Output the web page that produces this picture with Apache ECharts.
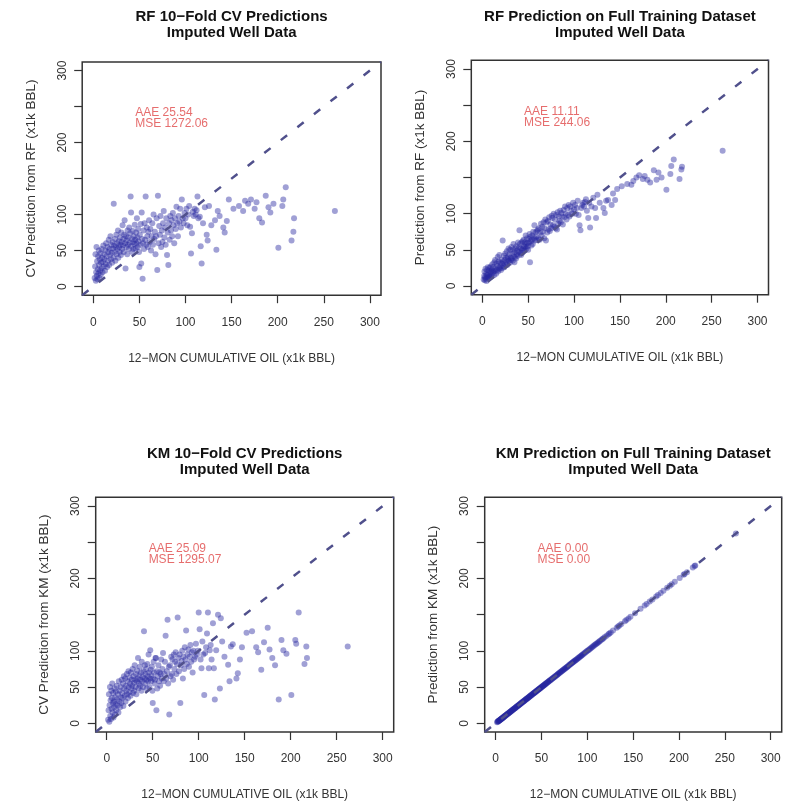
<!DOCTYPE html>
<html><head><meta charset="utf-8">
<script src="https://cdn.jsdelivr.net/npm/echarts@6/dist/echarts.min.js"></script>
<style>html,body{margin:0;padding:0;background:#fff}#c{width:796px;height:802px}</style>
</head><body><div id="c"></div>
<script>
// 12-month cumulative oil, actual (x1k BBL)
const actual = [
1.5,2.0,2.4,2.8,3.1,3.5,3.8,4.2,4.6,5.0,5.3,5.6,6.0,6.3,6.7,7.0,7.4,7.8,8.1,8.5,
8.9,9.2,9.6,10.0,10.4,10.9,11.3,11.8,12.2,12.7,13.1,13.6,14.0,14.5,15.0,15.4,15.9,16.3,16.8,17.2,
17.7,18.1,18.6,19.0,19.5,20.0,20.4,20.9,21.3,21.8,22.2,22.7,23.1,23.6,24.0,24.5,25.0,25.4,25.9,26.3,
26.8,27.2,27.7,28.1,28.6,29.0,29.5,30.0,30.4,30.9,31.3,31.8,32.2,32.7,33.1,33.6,34.0,34.5,35.0,35.4,
35.9,36.3,36.8,37.2,37.7,38.1,38.6,39.0,39.5,40.0,40.5,41.0,41.4,41.9,42.3,42.8,43.2,43.7,44.1,44.6,
45.0,45.5,46.0,46.4,46.9,47.3,47.8,48.2,48.7,49.1,49.6,50.0,50.5,51.0,51.5,52.0,52.5,53.0,53.5,54.0,
54.5,55.0,55.6,56.2,56.8,57.4,58.0,58.6,59.2,59.8,
60.5,61.2,61.9,62.6,63.3,64.0,64.7,65.4,66.1,66.8,67.5,68.0,68.7,69.4,70.1,70.8,71.5,72.2,72.9,73.6,
74.3,75.0,75.7,76.4,77.1,77.8,78.5,79.2,80.0,80.7,81.4,82.1,82.8,83.5,84.2,84.9,85.6,86.3,87.0,87.8,
88.6,89.4,90.2,91.0,91.8,92.6,93.4,94.2,95.0,96.0,97.0,98.0,99.0,100.0,101.0,102.0,103.0,104.0,105.0,106.0,
107.0,108.0,109.0,110.0,111.0,112.0,113.0,114.0,
115.5,116.5,117.5,119.0,121.0,123.0,124.0,125.5,128.0,132.0,133.5,135.0,137.0,141.0,142.5,144.8,147.0,152.0,158.0,162.5,
164.6,168.0,171.0,175.0,177.0,180.0,183.0,187.0,190.0,192.0,195.4,200.7,205.0,206.0,208.7,215.0,217.0,217.7,262.0
];
// RF 10-fold CV predictions
const rfCV = [
12,28,45,8,20,55,15,35,10,24,42,18,50,30,12,38,22,46,16,33,
25,52,40,20,34,57,28,45,38,22,50,31,60,42,27,55,36,48,65,30,
52,44,70,38,58,47,33,62,53,40,115,57,48,66,36,55,72,45,60,52,
78,40,63,55,48,68,58,44,75,62,52,85,57,66,48,72,92,60,25,70,
55,64,45,78,58,68,52,82,61,74,125,103,56,66,48,77,62,52,70,59,
86,65,53,75,60,95,68,55,80,63,48,27,72,58,87,32,103,66,11,60,
78,52,88,65,125,58,82,70,55,76,
92,62,80,50,70,88,58,100,66,76,45,70,95,23,126,60,84,72,98,55,
78,62,88,105,68,82,58,95,44,75,30,88,65,98,78,92,70,102,85,60,
95,80,111,88,70,98,90,108,82,121,95,88,102,95,108,85,100,112,83,46,
74,104,98,108,100,106,125,95,
97,56,32,88,110,72,64,112,85,92,51,105,98,82,75,91,121,108,112,105,
119,115,121,108,117,95,89,126,110,103,115,54,112,121,138,64,76,95,105
];
// RF predictions on the full training dataset
const rfFull = [
9,14,20,8,12,24,10,17,7,15,22,12,26,16,11,21,13,25,12,19,
14,27,20,13,22,30,18,26,20,15,33,21,36,24,17,31,22,28,40,20,
34,25,43,24,32,27,22,36,31,25,63,34,28,42,26,36,45,30,39,33,
48,29,40,37,52,35,44,32,50,39,36,54,38,45,35,50,58,41,33,47,
40,52,38,55,44,49,42,60,47,53,77,58,45,52,43,60,50,46,62,52,
64,55,49,60,54,70,58,52,66,59,55,50,65,60,72,33,68,62,56,64,
70,58,75,66,84,63,74,68,64,76,
78,66,80,64,74,86,70,82,75,88,66,80,92,63,88,74,90,78,95,76,
85,80,97,94,84,100,82,92,80,98,78,102,86,96,90,104,88,101,96,85,
105,95,110,100,92,108,98,112,96,110,104,100,115,106,112,100,108,118,98,84,
77,108,112,115,110,116,120,104,
94,115,81,110,122,108,94,126,115,108,101,118,119,112,128,119,134,138,141,140,
145,150,153,148,152,147,143,160,147,157,150,133,155,166,175,148,161,165,187
];
// KM 10-fold CV predictions
const kmCV = [
5,18,40,2,25,50,10,32,6,45,20,35,55,15,28,42,8,30,22,48,
12,36,26,44,18,52,33,25,40,15,58,30,45,22,50,36,28,60,42,35,
55,24,65,48,38,62,30,52,45,68,40,58,35,72,50,43,63,55,38,70,
48,60,52,75,42,65,56,45,80,60,50,68,40,58,73,62,90,48,55,66,
78,52,60,70,45,85,58,64,50,72,127,62,80,55,68,75,60,48,82,65,
58,95,70,50,62,101,74,58,66,78,45,28,62,85,70,55,60,90,90,18,
72,48,65,80,58,70,52,68,88,62,
75,97,58,68,85,121,62,72,143,55,78,12,80,65,92,68,88,60,95,75,
85,98,68,82,146,90,72,95,28,80,86,100,62,92,75,105,88,128,82,95,
102,78,92,108,85,98,70,100,88,92,110,95,100,153,130,88,76,113,95,39,
97,105,124,153,76,101,108,88,
138,76,33,101,150,48,145,113,92,81,58,106,109,62,69,88,105,125,127,105,
98,74,112,132,102,90,80,33,115,101,96,39,115,110,153,82,106,90,106
];
// KM predictions on the full training dataset (AAE 0.00, MSE 0.00: equal to actual)
const kmFull = actual;

const xTicks = [0, 50, 100, 150, 200, 250, 300];
const yTicks = [0, 50, 100, 150, 200, 250, 300];
const yTickLabels = [0, 50, 100, 200, 300];
const axisRange = [-12, 312];
const refLine = [-12, 312];

const titles = [
  "RF 10\u2212Fold CV Predictions\nImputed Well Data",
  "RF Prediction on Full Training Dataset\nImputed Well Data",
  "KM 10\u2212Fold CV Predictions\nImputed Well Data",
  "KM Prediction on Full Training Dataset\nImputed Well Data"
];
const yNames = [
  "CV Prediction from RF (x1k BBL)",
  "Prediction from RF (x1k BBL)",
  "CV Prediction from KM (x1k BBL)",
  "Prediction from KM (x1k BBL)"
];
const xName = "12\u2212MON CUMULATIVE OIL (x1k BBL)";
const stats = [
  ["AAE 25.54", "MSE 1272.06"],
  ["AAE 11.11", "MSE 244.06"],
  ["AAE 25.09", "MSE 1295.07"],
  ["AAE 0.00", "MSE 0.00"]
];
const statPos = [45, 234];
const preds = [rfCV, rfFull, kmCV, kmFull];

const FONT = "'Liberation Sans', Arial, Helvetica, sans-serif";
const grids = [
  {left: 82.2, top: 61.9, width: 298.8, height: 233.3},
  {left: 471.3, top: 60.3, width: 297.2, height: 234.4},
  {left: 95.7, top: 497.3, width: 298, height: 234.7},
  {left: 484.7, top: 497.3, width: 297, height: 234.7}
];
const titleTops = [9, 9, 446, 446];

const option = {
  animation: false,
  backgroundColor: '#fff',
  title: grids.map((g, i) => ({
    text: titles[i],
    left: g.left + g.width / 2,
    top: titleTops[i],
    textAlign: 'center',
    padding: 0,
    textStyle: {fontFamily: FONT, fontSize: 15, fontWeight: 'bold', color: '#111', lineHeight: 16}
  })),
  grid: grids.map(g => Object.assign({show: true, borderColor: '#333', borderWidth: 1.5, backgroundColor: 'transparent', containLabel: false}, g)),
  xAxis: grids.map((g, i) => ({
    type: 'value', gridIndex: i, min: axisRange[0], max: axisRange[1],
    axisLine: {show: false, onZero: false},
    axisTick: {show: true, inside: false, length: 8, customValues: xTicks, lineStyle: {color: '#333', width: 1.2}},
    axisLabel: {customValues: xTicks, margin: 21, fontSize: 12, color: '#333', fontFamily: FONT},
    splitLine: {show: false},
    name: xName, nameLocation: 'middle', nameGap: 57,
    nameTextStyle: {fontSize: 12, color: '#333', fontFamily: FONT}
  })),
  yAxis: grids.map((g, i) => ({
    type: 'value', gridIndex: i, min: axisRange[0], max: axisRange[1],
    axisLine: {show: false, onZero: false},
    axisTick: {show: true, inside: false, length: 8, customValues: yTicks, lineStyle: {color: '#333', width: 1.2}},
    axisLabel: {customValues: yTickLabels, rotate: 90, margin: 14, fontSize: 12, color: '#333', fontFamily: FONT},
    splitLine: {show: false},
    name: yNames[i], nameLocation: 'middle', nameGap: 44, nameRotate: 90,
    nameTextStyle: {fontSize: 13.5, color: '#333', fontFamily: FONT}
  })),
  series: []
};

grids.forEach((g, i) => {
  option.series.push({
    type: 'scatter', xAxisIndex: i, yAxisIndex: i,
    data: actual.map((x, k) => [x, preds[i][k]]),
    symbolSize: 6,
    itemStyle: {color: 'rgba(38,38,160,0.55)'},
    z: 2
  });
  option.series.push({
    type: 'line', xAxisIndex: i, yAxisIndex: i,
    data: [[refLine[0], refLine[0]], [refLine[1], refLine[1]]],
    symbol: 'none', clip: true,
    lineStyle: {color: '#50508c', width: 2.5, type: [8, 13]},
    z: 3
  });
  option.series.push({
    type: 'scatter', xAxisIndex: i, yAxisIndex: i,
    data: [statPos], symbolSize: 1,
    itemStyle: {color: 'rgba(0,0,0,0)'},
    label: {show: true, position: 'right', distance: 0, formatter: stats[i].join('\n'),
      color: '#e04848', fontSize: 12, lineHeight: 11, fontFamily: FONT, align: 'left'},
    silent: true, z: 4
  });
});

const chart = echarts.init(document.getElementById('c'), null, {renderer: 'canvas'});
chart.setOption(option);
</script>
</body></html>
